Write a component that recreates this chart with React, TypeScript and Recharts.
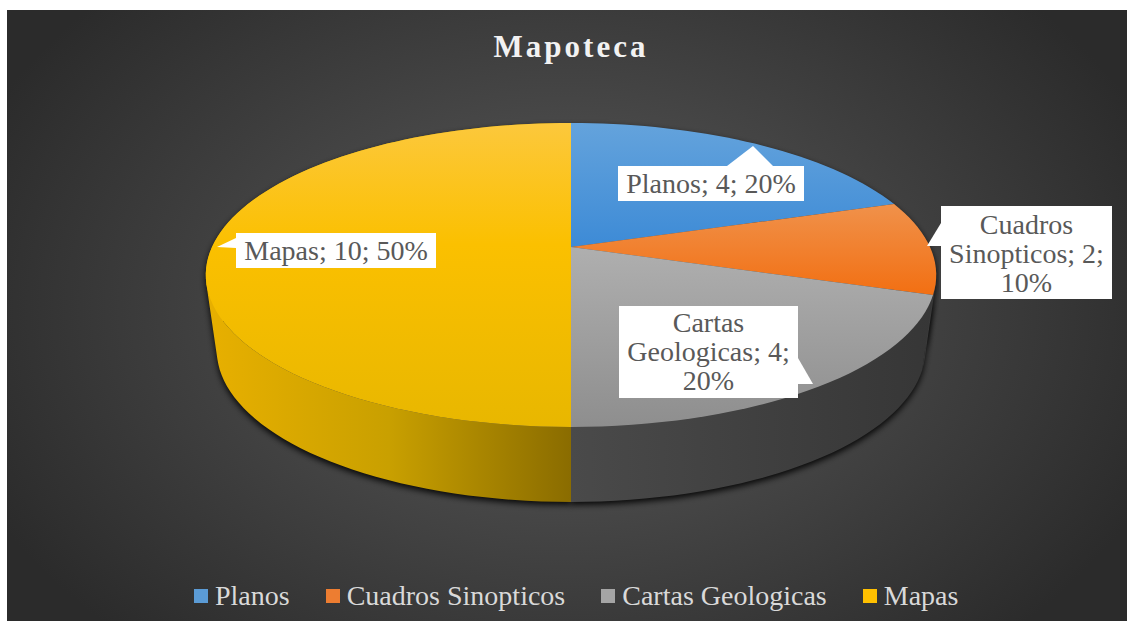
import { PieChart, Pie, Legend } from "recharts";

const categories = ["Planos", "Cuadros Sinopticos", "Cartas Geologicas", "Mapas"];
const counts = [4, 2, 4, 10];
const legendColors = ["#5b9bd5", "#ed7d31", "#a5a5a5", "#ffc000"];
const wallFills = ["#3a3a3a", "#3a3a3a", "url(#wallGray)", "url(#wallGold)"];
const topFills = ["url(#topBlue)", "url(#topOrange)", "url(#topGray)", "url(#topGold)"];

const pieData = categories.map((name, i) => ({
  name,
  value: counts[i],
  fill: legendColors[i],
}));

// callout boxes, keyed by category: box, tail triangle, line breaks, text baselines
const callouts: Record<string, any> = {
  Planos: { x: 618, y: 166, w: 186, h: 35, tail: "727,166 753,146 773,166", breaks: [], base: [193] },
  "Cuadros Sinopticos": { x: 941, y: 206, w: 171, h: 93, tail: "941,223 927,246 941,246", breaks: [1, 3], base: [234, 263, 292] },
  "Cartas Geologicas": { x: 619, y: 306, w: 179, h: 92, tail: "798,358 813,384 798,384", breaks: [1, 3], base: [332, 361, 390] },
  Mapas: { x: 236, y: 233, w: 200, h: 35, tail: "236,238 217,247 236,248", breaks: [], base: [260] },
};

const SERIF = '"Liberation Serif", serif';
const CX = 571;
const APEX_Y = 247;
const DEPTH = 75;

// perspective view of the round pie: angle is clockwise from the top
function project(deg: number, drop: number, shrink: number) {
  const t = (deg * Math.PI) / 180;
  const w = 1 + 0.184 * Math.cos(t);
  return [
    CX + (359 * shrink * Math.sin(t)) / w,
    APEX_Y + drop - (146.8 * Math.cos(t)) / w,
  ];
}

function arcPoints(a0: number, a1: number, drop: number, shrink: number) {
  const pts = [];
  const steps = Math.max(2, Math.ceil(Math.abs(a1 - a0) / 2));
  for (let i = 0; i <= steps; i++) {
    pts.push(project(a0 + ((a1 - a0) * i) / steps, drop, shrink));
  }
  return pts;
}

const toPath = (pts: number[][]) =>
  "M" + pts.map((p) => `${p[0].toFixed(1)},${p[1].toFixed(1)}`).join("L") + "Z";

function TopSlice(props: any) {
  const a0 = 90 - props.startAngle;
  const a1 = 90 - props.endAngle;
  const pts = [[CX, APEX_Y], ...arcPoints(a0, a1, 0, 1)];
  return <path d={toPath(pts)} fill={topFills[categories.indexOf(props.name)]} />;
}

// the side wall is a strip of quads, all wound the same way so their union gives the silhouette
function wallPath(props: any) {
  const a0 = 90 - props.startAngle;
  const a1 = 90 - props.endAngle;
  const upper = arcPoints(a0, a1, 0, 1);
  const lower = arcPoints(a0, a1, DEPTH, 0.97);
  let d = "";
  for (let i = 0; i < upper.length - 1; i++) {
    const quad = [upper[i], upper[i + 1], lower[i + 1], lower[i]];
    let area = 0;
    quad.forEach((p, j) => {
      const q = quad[(j + 1) % 4];
      area += p[0] * q[1] - q[0] * p[1];
    });
    d += toPath(area < 0 ? quad.reverse() : quad);
  }
  return d;
}

function WallSlice(props: any) {
  return <path d={wallPath(props)} fill={wallFills[categories.indexOf(props.name)]} />;
}

function ShadowSlice(props: any) {
  return <path d={wallPath(props)} fill="#000000" fillOpacity={0.9} filter="url(#wallShadow)" />;
}

function renderCallout(props: any) {
  const box = callouts[props.name];
  const words = `${props.name}; ${props.value}; ${Math.round(props.percent * 100)}%`.split(" ");
  const cuts = [0, ...box.breaks, words.length];
  const lines = cuts.slice(0, -1).map((c: number, i: number) => words.slice(c, cuts[i + 1]).join(" "));
  return (
    <g key={props.name}>
      <polygon points={box.tail} fill="#ffffff" />
      <rect x={box.x} y={box.y} width={box.w} height={box.h} fill="#ffffff" />
      {lines.map((line: string, i: number) => (
        <text
          key={line}
          x={box.x + box.w / 2}
          y={box.base[i]}
          textAnchor="middle"
          fontFamily={SERIF}
          fontSize={28}
          fill="#595959"
        >
          {line}
        </text>
      ))}
    </g>
  );
}

function renderLegend({ payload }: any) {
  const items = categories.map((c) => (payload || []).find((p: any) => p.value === c)).filter(Boolean);
  return (
    <div style={{ display: "flex", fontFamily: SERIF, fontSize: 28, color: "#d9d9d9", lineHeight: "30px" }}>
      {items.map((entry: any) => (
        <div key={entry.value} style={{ display: "flex", alignItems: "center", marginRight: 36 }}>
          <span style={{ width: 14, height: 14, background: entry.color, marginRight: 7, flex: "none" }} />
          <span style={{ whiteSpace: "nowrap" }}>{entry.value}</span>
        </div>
      ))}
    </div>
  );
}

const sliceProps = {
  data: pieData,
  dataKey: "value",
  nameKey: "name",
  cx: CX,
  cy: APEX_Y,
  outerRadius: 150,
  startAngle: 90,
  endAngle: -270,
  stroke: "none",
  isAnimationActive: false,
};

export default function App() {
  return (
    <div style={{ position: "absolute", left: 0, top: 0, width: 1127, height: 621, background: "#ffffff", overflow: "hidden" }}>
      <div
        style={{
          position: "absolute",
          left: 7,
          top: 10,
          right: 0,
          bottom: 0,
          background: "radial-gradient(ellipse 640px 450px at 557px 300px, #5c5c5c 0%, #2b2b2b 100%)",
        }}
      />
      <PieChart width={1127} height={621} style={{ position: "absolute", left: 0, top: 0 }}>
        <defs>
          <linearGradient id="topBlue" gradientUnits="userSpaceOnUse" x1="0" y1="123" x2="0" y2="250">
            <stop offset="0%" stopColor="#64a3dc" />
            <stop offset="100%" stopColor="#3c8ad6" />
          </linearGradient>
          <linearGradient id="topOrange" gradientUnits="userSpaceOnUse" x1="0" y1="205" x2="0" y2="295">
            <stop offset="0%" stopColor="#f0914a" />
            <stop offset="100%" stopColor="#f26f12" />
          </linearGradient>
          <linearGradient id="topGray" gradientUnits="userSpaceOnUse" x1="0" y1="247" x2="0" y2="427">
            <stop offset="0%" stopColor="#afafaf" />
            <stop offset="100%" stopColor="#8e8e8e" />
          </linearGradient>
          <linearGradient id="topGold" gradientUnits="userSpaceOnUse" x1="0" y1="123" x2="0" y2="427">
            <stop offset="0%" stopColor="#fcc83c" />
            <stop offset="40%" stopColor="#fbc000" />
            <stop offset="100%" stopColor="#e8b700" />
          </linearGradient>
          <linearGradient id="wallGold" gradientUnits="userSpaceOnUse" x1="206" y1="0" x2="571" y2="0">
            <stop offset="0%" stopColor="#e8b000" />
            <stop offset="50%" stopColor="#c9a000" />
            <stop offset="100%" stopColor="#8a6c00" />
          </linearGradient>
          <linearGradient id="wallGray" gradientUnits="userSpaceOnUse" x1="571" y1="0" x2="936" y2="0">
            <stop offset="0%" stopColor="#4a4a4a" />
            <stop offset="100%" stopColor="#363636" />
          </linearGradient>
          <filter id="wallShadow" x="-5%" y="-5%" width="110%" height="115%">
            <feOffset dy="3" />
            <feGaussianBlur stdDeviation="3" />
          </filter>
        </defs>
        <text
          x={571}
          y={57}
          textAnchor="middle"
          fontFamily={SERIF}
          fontWeight="bold"
          fontSize={31}
          letterSpacing={3}
          fill="#f2f2f2"
        >
          Mapoteca
        </text>
        <Pie {...sliceProps} legendType="none" shape={ShadowSlice} />
        <Pie {...sliceProps} legendType="none" shape={WallSlice} />
        <Pie {...sliceProps} shape={TopSlice} label={renderCallout} labelLine={false} />
        <Legend
          content={renderLegend}
          layout="horizontal"
          verticalAlign="bottom"
          align="left"
          wrapperStyle={{ left: 194, top: 581, bottom: "auto", width: 900 }}
        />
      </PieChart>
    </div>
  );
}
